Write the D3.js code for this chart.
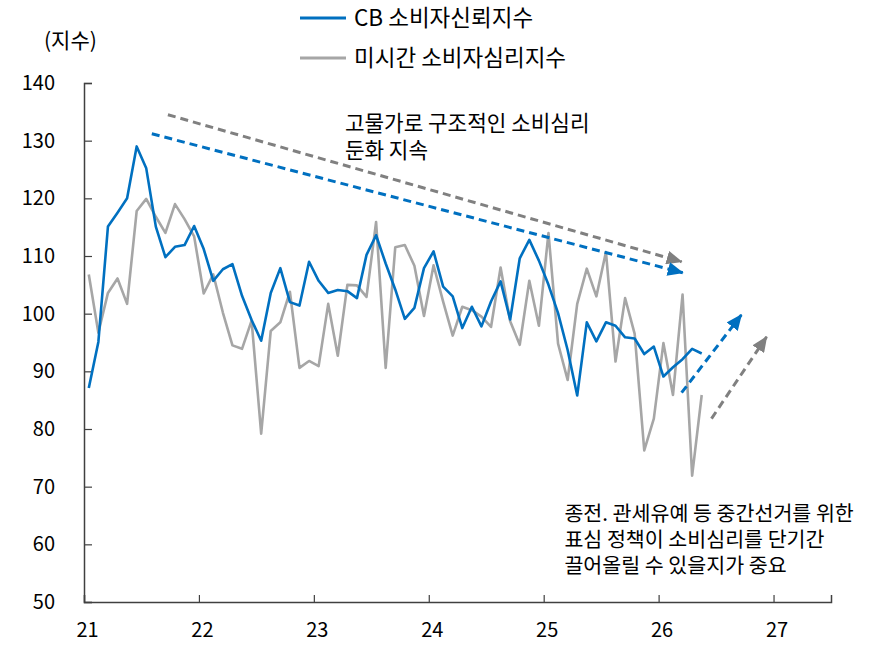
<!DOCTYPE html>
<html>
<head>
<meta charset="utf-8">
<script src="https://cdn.jsdelivr.net/npm/d3@7"></script>
<style>
  body { margin: 0; background: #fff; }
  svg text { font-family: "Noto Sans CJK KR", "Noto Sans", sans-serif; fill: #000; }
</style>
</head>
<body>
<div id="chart"></div>
<script>
// monthly values, Jan 2021 ~ May 2026
const startYear = 21;

const cbIndex = [
  87.1, 95.1, 115.1, 117.5, 120.0, 129.0, 125.2, 115.1, 109.8, 111.6, 111.9, 115.2,
  111.2, 105.7, 107.7, 108.6, 103.1, 98.9, 95.3, 103.6, 107.9, 102.0, 101.4, 109.0,
  105.7, 103.6, 104.1, 103.9, 102.7, 110.2, 113.6, 108.7, 104.2, 99.1, 101.0, 107.9,
  110.8, 104.7, 103.0, 97.5, 101.2, 97.8, 102.1, 105.6, 99.0, 109.6, 112.8, 109.2,
  105.0, 100.1, 93.7, 85.8, 98.5, 95.2, 98.5, 97.9, 95.9, 95.7, 93.0, 94.3,
  89.1, 90.7, 92.1, 93.9, 93.1
];

const michiganIndex = [
  106.8, 96.7, 103.6, 106.1, 101.7, 117.8, 119.9, 116.8, 114.0, 119.0, 116.4, 113.4,
  103.5, 106.8, 100.2, 94.5, 93.9, 98.8, 79.2, 97.0, 98.5, 103.8, 90.6, 91.8,
  90.9, 101.7, 92.7, 105.0, 104.9, 102.9, 115.9, 90.6, 111.5, 111.9, 108.3, 99.6,
  108.4, 102.1, 96.2, 101.2, 100.6, 99.5, 97.7, 108.0, 98.7, 94.6, 105.7, 97.9,
  114.0, 94.8, 88.5, 101.7, 107.8, 103.0, 110.7, 91.7, 102.7, 96.5, 76.3, 81.8,
  94.9, 85.9, 103.3, 71.9, 85.9
];

const seriesNames = ["CB 소비자신뢰지수", "미시간 소비자심리지수"];
const seriesColors = ["#0070C0", "#A6A6A6"];

const xTicks = [21, 22, 23, 24, 25, 26, 27];
const yTicks = [50, 60, 70, 80, 90, 100, 110, 120, 130, 140];
const yUnit = "(지수)";

// trend arrows in data units: [year, index]
const arrowFrom = [[21.73, 134.5], [21.59, 131.2], [26.20, 86.3], [26.46, 81.8]];
const arrowTo   = [[26.20, 109.0], [26.21, 107.1], [26.72, 99.8], [26.94, 96.0]];
const arrowColors = ["#808080", "#0070C0", "#0070C0", "#808080"];

const noteTop = ["고물가로 구조적인 소비심리", "둔화 지속"];
const noteBottom = ["종전. 관세유예 등 중간선거를 위한", "표심 정책이 소비심리를 단기간", "끌어올릴 수 있을지가 중요"];

const W = 877, H = 645;
const margin = { top: 83, right: 46, bottom: 43, left: 84 };

const svg = d3.select("#chart").append("svg")
  .attr("width", W)
  .attr("height", H);

const x = d3.scaleLinear()
  .domain([21, 27.5])
  .range([margin.left, W - margin.right]);

const y = d3.scaleLinear()
  .domain([50, 140])
  .range([H - margin.bottom, margin.top]);

const monthX = i => startYear + (i + 0.5) / 12;

// axes
const xAxis = svg.append("g")
  .attr("transform", `translate(0, ${H - margin.bottom})`)
  .call(d3.axisBottom(x).tickValues(xTicks).tickSize(-7).tickPadding(21).tickFormat(d => d));

const yAxis = svg.append("g")
  .attr("transform", `translate(${margin.left}, 0)`)
  .call(d3.axisLeft(y).tickValues(yTicks).tickSize(-8).tickPadding(29));

[xAxis, yAxis].forEach(ax => {
  ax.select(".domain").attr("stroke", "#404040").attr("stroke-width", 1.5);
  ax.selectAll(".tick line").attr("stroke", "#404040").attr("stroke-width", 1.2);
  ax.selectAll(".tick text")
    .style("font-size", "20px")
    .style("font-family", "'Noto Sans CJK KR', sans-serif")
    .attr("fill", "#000");
});
xAxis.selectAll(".tick text").attr("dx", 3);

svg.append("text")
  .attr("x", 44)
  .attr("y", 48)
  .style("font-size", "21px")
  .text(yUnit);

// lines
const line = d3.line()
  .x((d, i) => x(monthX(i)))
  .y(d => y(d));

[michiganIndex, cbIndex].forEach((values, j) => {
  svg.append("path")
    .datum(values)
    .attr("fill", "none")
    .attr("stroke", j === 0 ? seriesColors[1] : seriesColors[0])
    .attr("stroke-width", 2.6)
    .attr("stroke-linejoin", "round")
    .attr("d", line);
});

// arrowheads
const defs = svg.append("defs");
arrowColors.forEach((c, i) => {
  defs.append("marker")
    .attr("id", "head" + i)
    .attr("markerUnits", "userSpaceOnUse")
    .attr("markerWidth", 16)
    .attr("markerHeight", 14)
    .attr("refX", 15)
    .attr("refY", 7)
    .attr("orient", "auto")
    .append("path")
    .attr("d", "M0,0 L16,7 L0,14 Z")
    .attr("fill", c);
});

arrowFrom.forEach((p, i) => {
  svg.append("line")
    .attr("x1", x(p[0]))
    .attr("y1", y(p[1]))
    .attr("x2", x(arrowTo[i][0]))
    .attr("y2", y(arrowTo[i][1]))
    .attr("stroke", arrowColors[i])
    .attr("stroke-width", 3)
    .attr("stroke-dasharray", "8,5")
    .attr("marker-end", `url(#head${i})`);
});

// notes, one text per line
noteTop.forEach((t, i) => {
  svg.append("text")
    .attr("x", x(23.27))
    .attr("y", y(131.7) + i * 27)
    .style("font-size", "21.3px")
    .text(t);
});

noteBottom.forEach((t, i) => {
  svg.append("text")
    .attr("x", x(25.18))
    .attr("y", y(64.1) + i * 26)
    .style("font-size", "20.6px")
    .text(t);
});

// legend
const legend = svg.append("g");
seriesNames.forEach((name, i) => {
  const ly = 18 + i * 40;
  legend.append("line")
    .attr("x1", 300)
    .attr("x2", 346)
    .attr("y1", ly)
    .attr("y2", ly)
    .attr("stroke", seriesColors[i])
    .attr("stroke-width", 3);
  legend.append("text")
    .attr("x", 354)
    .attr("y", ly)
    .attr("dy", "0.35em")
    .style("font-size", "22.5px")
    .text(name);
});
</script>
</body>
</html>
